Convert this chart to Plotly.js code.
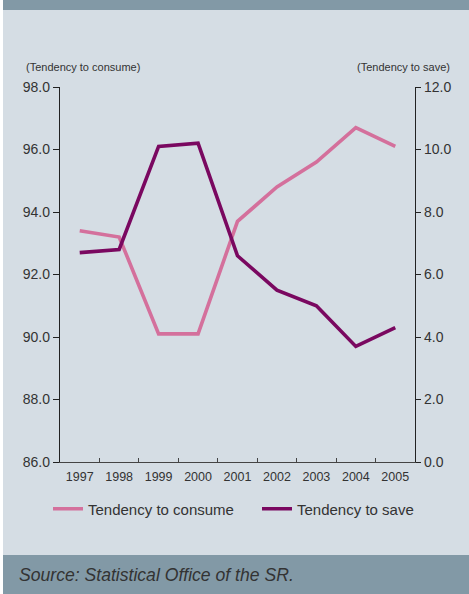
<!DOCTYPE html>
<html>
<head>
<meta charset="utf-8">
<script src="https://cdn.plot.ly/plotly-3.0.1.min.js"></script>
<style>
html,body{margin:0;padding:0;background:#fff;}
#chart{width:469px;height:594px;}
</style>
</head>
<body>
<div id="chart"></div>
<script>
var years = ['1997','1998','1999','2000','2001','2002','2003','2004','2005'];
var consume = [93.4, 93.2, 90.1, 90.1, 93.7, 94.8, 95.6, 96.7, 96.1];
var save = [6.7, 6.8, 10.1, 10.2, 6.6, 5.5, 5.0, 3.7, 4.3];
var leftTicks = [86, 88, 90, 92, 94, 96, 98];
var rightTicks = [0, 2, 4, 6, 8, 10, 12];

var W = 469, H = 594, L = 60, R = 54, T = 87, B = 132;
var pw = W - L - R, ph = H - T - B;
function px(x){ return (x - L) / pw; }
function py(y){ return (H - B - y) / ph; }

var font = 'Liberation Sans, Arial, sans-serif';

var traces = [
  {x: years, y: consume, type: 'scatter', mode: 'lines', name: 'Tendency to consume',
   line: {color: '#d4709c', width: 3.6}, yaxis: 'y', legend: 'legend'},
  {x: years, y: save, type: 'scatter', mode: 'lines', name: 'Tendency to save',
   line: {color: '#7a0860', width: 3.6}, yaxis: 'y2', legend: 'legend2'}
];

var legendBase = {
  orientation: 'h', xanchor: 'left', y: py(509), yanchor: 'middle',
  bgcolor: 'rgba(0,0,0,0)', font: {size: 15, family: font, color: '#333'},
  itemwidth: 30
};
var legend1 = Object.assign({}, legendBase, {x: px(48)});
var legend2 = Object.assign({}, legendBase, {x: px(257)});

var layout = {
  width: W, height: H,
  margin: {l: L, r: R, t: T, b: B, pad: 0},
  paper_bgcolor: '#d5dde4',
  plot_bgcolor: '#d5dde4',
  showlegend: true,
  font: {family: font, color: '#333'},
  xaxis: {
    type: 'category', range: [-0.5, 8.5], tickson: 'boundaries',
    ticks: 'inside', ticklen: 4, tickcolor: '#444', tickwidth: 1,
    showline: true, linecolor: '#444', linewidth: 1.2,
    showgrid: false, zeroline: false, fixedrange: true,
    ticklabelstandoff: 3,
    tickfont: {size: 12.5, family: font, color: '#333'}
  },
  yaxis: {
    range: [86, 98], tickvals: leftTicks, ticktext: leftTicks.map(function(v){return v.toFixed(1);}),
    ticks: 'outside', ticklen: 6, tickcolor: '#222', tickwidth: 1,
    showline: true, linecolor: '#222', linewidth: 1.2,
    showgrid: false, zeroline: false, fixedrange: true,
    tickfont: {size: 14, family: font, color: '#333'}
  },
  yaxis2: {
    range: [0, 12], overlaying: 'y', side: 'right',
    tickvals: rightTicks, ticktext: rightTicks.map(function(v){return v.toFixed(1);}),
    ticks: 'outside', ticklen: 5, tickcolor: '#222', tickwidth: 1,
    showline: true, linecolor: '#222', linewidth: 1.2,
    showgrid: false, zeroline: false, fixedrange: true,
    tickfont: {size: 14, family: font, color: '#333'}
  },
  legend: legend1,
  legend2: legend2,
  shapes: [
    {type: 'rect', xref: 'paper', yref: 'paper', x0: px(0), x1: px(W), y0: py(10), y1: py(0),
     fillcolor: '#8299a6', line: {width: 0}, layer: 'below'},
    {type: 'rect', xref: 'paper', yref: 'paper', x0: px(0), x1: px(W), y0: py(H), y1: py(555),
     fillcolor: '#8299a6', line: {width: 0}, layer: 'below'},
    {type: 'rect', xref: 'paper', yref: 'paper', x0: px(0), x1: px(3), y0: py(H), y1: py(0),
     fillcolor: '#ffffff', line: {width: 0}, layer: 'below'}
  ],
  annotations: [
    {text: '(Tendency to consume)', xref: 'paper', yref: 'paper', x: px(24), y: py(67),
     xanchor: 'left', yanchor: 'middle', showarrow: false, font: {size: 11, family: font, color: '#333'}},
    {text: '(Tendency to save)', xref: 'paper', yref: 'paper', x: px(452), y: py(67),
     xanchor: 'right', yanchor: 'middle', showarrow: false, font: {size: 11, family: font, color: '#333'}},
    {text: '<i>Source: Statistical Office of the SR.</i>', xref: 'paper', yref: 'paper', x: px(17), y: py(575),
     xanchor: 'left', yanchor: 'middle', showarrow: false, font: {size: 17.6, family: font, color: '#333'}}
  ]
};

Plotly.newPlot('chart', traces, layout, {displayModeBar: false, staticPlot: true});
</script>
</body>
</html>
